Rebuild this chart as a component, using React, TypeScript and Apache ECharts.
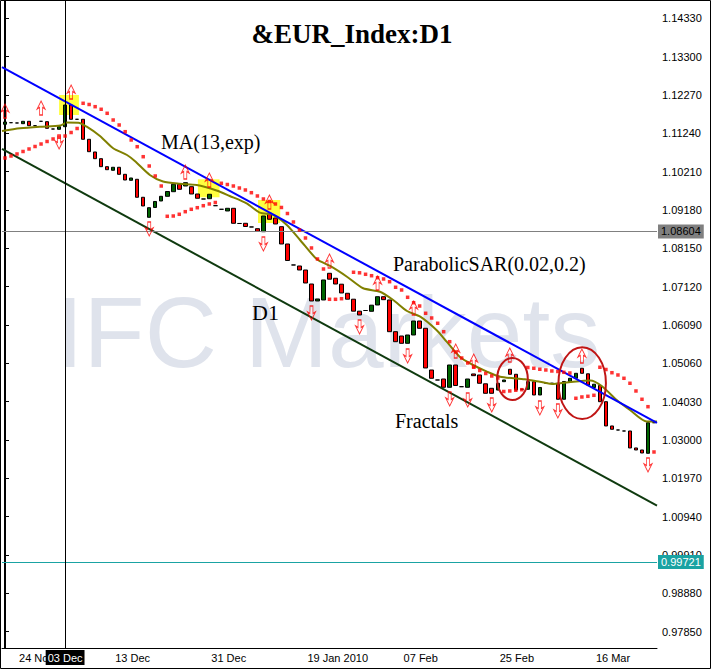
import React, { useEffect, useRef } from 'react';
import * as echarts from 'echarts';

const MONTHS = ['Jan', 'Feb', 'Mar', 'Apr', 'May', 'Jun', 'Jul', 'Aug', 'Sep', 'Oct', 'Nov', 'Dec'];
// Daily bars Sunday..Friday (broker includes Sunday bars), starting Sun 22 Nov 2009
function tradingDays(y: number, m: number, d: number, count: number): string[] {
  const out: string[] = [];
  const dt = new Date(Date.UTC(y, m - 1, d));
  while (out.length < count) {
    if (dt.getUTCDay() !== 6) out.push(String(dt.getUTCDate()).padStart(2, '0') + ' ' + MONTHS[dt.getUTCMonth()]);
    dt.setUTCDate(dt.getUTCDate() + 1);
  }
  return out;
}
const categories = tradingDays(2009, 11, 22, 109);

const opens = [
  1.11483, 1.11526, 1.11518, 1.11499, 1.11563, 1.11445, 1.11563, 1.11553, 1.11356, 1.11348,
  1.11418, 1.12001, 1.11617, 1.11617, 1.1108, 1.10739, 1.10559, 1.10344, 1.10247, 1.10328,
  1.10139, 1.09978, 1.10005, 1.09522, 1.08984, 1.09248, 1.09422, 1.09548, 1.09672, 1.09871,
  1.09825, 1.09806, 1.0961, 1.09476, 1.09484, 1.09296, 1.09199, 1.09154, 1.09226, 1.08818,
  1.08823, 1.08724, 1.08678, 1.08597, 1.09092, 1.08965, 1.08732, 1.08267, 1.07703, 1.07676,
  1.07568, 1.07192, 1.06736, 1.06763, 1.0748, 1.07346, 1.07187, 1.06943, 1.06784, 1.06462,
  1.0648, 1.06459, 1.06628, 1.06851, 1.06763, 1.05911, 1.05795, 1.05599, 1.05822, 1.06198,
  1.06002, 1.04882, 1.04613, 1.0464, 1.04417, 1.05016, 1.04433, 1.04417, 1.04775, 1.04748,
  1.04511, 1.0439, 1.04343, 1.04568, 1.04901, 1.04767, 1.04363, 1.04363, 1.04568, 1.0421,
  1.04525, 1.04525, 1.04525, 1.04095, 1.04573, 1.04659, 1.04928, 1.0478, 1.04412, 1.04466,
  1.0403, 1.03378, 1.0327, 1.03243, 1.03243, 1.02787, 1.02733, 1.02644, 1.03466,
];
const closes = [
  1.11545, 1.11526, 1.11518, 1.11563, 1.11445, 1.11445, 1.11563, 1.11375, 1.11356, 1.11418,
  1.12001, 1.11617, 1.11617, 1.1108, 1.10747, 1.10559, 1.10344, 1.10263, 1.10328, 1.10139,
  1.09986, 1.1004, 1.09522, 1.09288, 1.09242, 1.09409, 1.09548, 1.09677, 1.09871, 1.09736,
  1.09914, 1.0961, 1.09495, 1.09476, 1.09602, 1.09296, 1.09199, 1.09226, 1.08823, 1.08818,
  1.08737, 1.08724, 1.08608, 1.09019, 1.08931, 1.08804, 1.08267, 1.07824, 1.07703, 1.07568,
  1.07219, 1.06736, 1.06789, 1.073, 1.07321, 1.07192, 1.06951, 1.06784, 1.06462, 1.0636,
  1.0648, 1.06623, 1.06851, 1.06771, 1.05911, 1.05642, 1.05599, 1.05822, 1.06198, 1.06002,
  1.04936, 1.04659, 1.04613, 1.04417, 1.05016, 1.04466, 1.04433, 1.0464, 1.04729, 1.04525,
  1.04256, 1.04256, 1.04525, 1.04613, 1.04767, 1.04343, 1.04363, 1.04568, 1.0421, 1.04412,
  1.04525, 1.04525, 1.04095, 1.04573, 1.04659, 1.04793, 1.04793, 1.04479, 1.045, 1.0403,
  1.03378, 1.03289, 1.0327, 1.03243, 1.02787, 1.02733, 1.02652, 1.03466, 1.03466,
];

const sar = [
  1.10577, 1.10631, 1.10685, 1.10752, 1.10819, 1.10886, 1.10953, 1.11021, 1.11088, 1.11133,
  1.11168, 1.11262, 1.1137, 1.12047, 1.12015, 1.11956, 1.11886, 1.11778, 1.11598, 1.11464,
  1.11284, 1.11061, 1.10881, 1.10612, 1.10362, 1.10094, 1.09825, 1.09011, 1.09019, 1.09065,
  1.09135, 1.09199, 1.09242, 1.09296, 1.09342, 1.09382, 1.09898, 1.09865, 1.09825, 1.09771,
  1.09718, 1.09645, 1.09557, 1.09476, 1.09409, 1.09342, 1.09248, 1.09086, 1.08858, 1.08643,
  1.08428, 1.0816, 1.07864, 1.07595, 1.06781, 1.06781, 1.06797, 1.06851, 1.07507, 1.07493,
  1.07453, 1.07415, 1.07362, 1.07327, 1.07254, 1.07104, 1.07031, 1.06835, 1.0669, 1.06601,
  1.06405, 1.06279, 1.06137, 1.05911, 1.05642, 1.05366, 1.05204, 1.0507, 1.04963, 1.04869,
  1.04788, 1.04721, 1.04667, 1.04304, 1.04318, 1.04337, 1.04353, 1.04949, 1.04928, 1.04901,
  1.04882, 1.04855, 1.04842, 1.0482, 1.04801, 1.04122, 1.04157, 1.04175, 1.04202, 1.04955,
  1.04895, 1.04809, 1.04748, 1.04659, 1.04525, 1.04318, 1.04095, 1.03896, 1.02679,
];

// EMA(13): [bar position, value]
const maPoints: [number, number][] = [
  [-0.5, 1.11303], [2.5, 1.11375], [5.8, 1.11418], [9.2, 1.1145], [10.3, 1.11531], [12.2, 1.11526],
  [13.6, 1.11418], [15.8, 1.11168], [18.0, 1.10838], [20.3, 1.10658], [21.6, 1.10497], [24.1, 1.10121],
  [26.3, 1.09946], [29.1, 1.09884], [31.9, 1.09852], [35.2, 1.09704], [37.4, 1.09557], [40.2, 1.0936],
  [42.4, 1.09108], [44.7, 1.09046], [46.9, 1.08777], [49.1, 1.08374], [51.9, 1.07856], [54.1, 1.07676],
  [56.9, 1.07388], [59.6, 1.07077], [62.4, 1.06985], [64.6, 1.06763], [66.9, 1.06467], [69.1, 1.06314],
  [71.8, 1.05956], [73.5, 1.05642], [75.7, 1.05231], [77.9, 1.05016], [80.2, 1.04836], [82.4, 1.04702],
  [86.5, 1.04632], [89.0, 1.04568], [91.3, 1.04506], [94.6, 1.04568], [97.4, 1.046], [99.3, 1.04452],
  [101.8, 1.04076], [104.0, 1.03807], [106.8, 1.03498], [108.5, 1.03498],
];

const fractalUp: [number, number][] = [
  [0, 1.1184], [6, 1.11921], [11, 1.1235], [30, 1.10201], [34, 1.09986], [44, 1.09395], [54, 1.0781],
  [62, 1.07219], [68, 1.06548], [75, 1.05392], [78, 1.05124], [84, 1.05285], [96, 1.05258],
];
const fractalDown: [number, number][] = [
  [9, 1.11007], [24, 1.0867], [43, 1.08267], [51, 1.06413], [59, 1.06037], [67, 1.05258], [74, 1.04103],
  [77, 1.04076], [81, 1.03942], [89, 1.03861], [92, 1.03781], [107, 1.0233],
];

// trend channel: [bar position, value]
const upperTrend: [number, number][] = [[-0.5, 1.13016], [108.5, 1.03463]];
const lowerTrend: [number, number][] = [[-0.5, 1.10824], [108.5, 1.01241]];

// yellow highlight boxes [x1, x2, y1, y2]
const highlights = [
  [9.0, 12.3, 1.1227, 1.11733],
  [32.1, 35.7, 1.10005, 1.09522],
  [42.1, 45.8, 1.09449, 1.08831],
];
// red ellipses [x1, x2, y1, y2]
const ellipses = [
  [81.9, 87.0, 1.05204, 1.04076],
  [92.1, 100.0, 1.05492, 1.03566],
];

const yTicks = [
  0.9785, 0.9888, 0.9991, 1.0094, 1.0197, 1.03, 1.0403, 1.0506, 1.0609, 1.0712, 1.0815, 1.0918,
  1.1021, 1.1124, 1.1227, 1.133, 1.1433,
];
const bidLine = 1.08604;
const askLine = 0.99721;
const cursorBar = 10;

const AXIS_FONT = '"Liberation Sans", Arial, sans-serif';
const SERIF = '"Liberation Serif", "Times New Roman", serif';
const upPath = 'path://M4 0 L8 8 L5.5 6.5 L5.5 14 L2.5 14 L2.5 6.5 L0 8 Z';
const downPath = 'path://M4 14 L8 6 L5.5 7.5 L5.5 0 L2.5 0 L2.5 7.5 L0 6 Z';

const showLabel = (i: number) => i >= 2 && (i - 2) % 16 === 0;

export default function App() {
  const ref = useRef<HTMLDivElement>(null);
  useEffect(() => {
    if (!ref.current) return;
    const chart = echarts.init(ref.current, undefined, { renderer: 'svg' });
    const candles = opens.map((o, i) => {
      const c = closes[i];
      return [o, c, Math.min(o, c), Math.max(o, c)];
    });
    const option: any = {
      animation: false,
      backgroundColor: '#ffffff',
      grid: { left: 2, top: 1, width: 655, height: 647 },
      xAxis: [
        {
          type: 'category',
          data: categories,
          boundaryGap: true,
          axisLine: { lineStyle: { color: '#000', width: 1 } },
          axisTick: { alignWithLabel: true, interval: showLabel, length: 5, lineStyle: { color: '#000' } },
          axisLabel: {
            interval: showLabel,
            formatter: (v: string) => (v === '19 Jan' ? '19 Jan 2010' : v),
            align: 'left',
            color: '#000',
            fontFamily: AXIS_FONT,
            fontSize: 11,
            margin: 4,
            padding: [0, 0, 0, 2],
          },
          splitLine: { show: false },
        },
        { type: 'value', min: -0.5, max: 108.5, show: false },
      ],
      yAxis: {
        type: 'value',
        position: 'right',
        min: 0.97413,
        max: 1.14795,
        axisLine: { show: true, lineStyle: { color: '#000', width: 2 } },
        axisTick: { show: true, length: 4, customValues: yTicks, lineStyle: { color: '#000' } },
        axisLabel: {
          customValues: yTicks,
          formatter: (v: number) => v.toFixed(5),
          color: '#000',
          fontFamily: AXIS_FONT,
          fontSize: 11,
          margin: 5,
        },
        splitLine: { show: false },
      },
      graphic: {
        elements: [
          {
            type: 'text', z: 0, x: 328, y: 332,
            style: { text: 'IFC Markets', font: '100px "Liberation Sans", Arial, sans-serif', fill: '#dfe3ec', textAlign: 'center', textVerticalAlign: 'middle' },
          },
          {
            type: 'text', z: 100, x: 352, y: 34,
            style: { text: '&EUR_Index:D1', font: 'bold 27px ' + SERIF, fill: '#000', textAlign: 'center', textVerticalAlign: 'middle' },
          },
          { type: 'text', z: 100, x: 161, y: 142, style: { text: 'MA(13,exp)', font: '20px ' + SERIF, fill: '#000', textVerticalAlign: 'middle' } },
          { type: 'text', z: 100, x: 393, y: 264, style: { text: 'ParabolicSAR(0.02,0.2)', font: '20px ' + SERIF, fill: '#000', textVerticalAlign: 'middle' } },
          { type: 'text', z: 100, x: 252, y: 312, style: { text: 'D1', font: '22px ' + SERIF, fill: '#000', textVerticalAlign: 'middle' } },
          { type: 'text', z: 100, x: 395, y: 421, style: { text: 'Fractals', font: '20px ' + SERIF, fill: '#000', textVerticalAlign: 'middle' } },
          {
            type: 'rect', z: 100, shape: { x: 0.5, y: 0.5, width: 710, height: 668 },
            style: { fill: 'none', stroke: '#000', lineWidth: 1 },
          },
        ],
      },
      series: [
        {
          type: 'custom', name: 'highlights', xAxisIndex: 1, yAxisIndex: 0, silent: true, z: 1,
          data: highlights,
          renderItem: (_p: any, api: any) => {
            const a = api.coord([api.value(0), api.value(2)]);
            const b = api.coord([api.value(1), api.value(3)]);
            return {
              type: 'rect',
              shape: { x: Math.min(a[0], b[0]), y: Math.min(a[1], b[1]), width: Math.abs(b[0] - a[0]), height: Math.abs(b[1] - a[1]) },
              style: { fill: '#ffff2a', opacity: 0.9 },
            };
          },
        },
        {
          type: 'candlestick', name: 'price', xAxisIndex: 0, yAxisIndex: 0, barWidth: 4, z: 3,
          data: candles,
          itemStyle: {
            color: '#006400', color0: '#ff0000', borderColor: '#000', borderColor0: '#000', borderColorDoji: '#000', borderWidth: 1,
          },
        },
        {
          type: 'line', name: 'MA(13,exp)', xAxisIndex: 1, yAxisIndex: 0, data: maPoints, showSymbol: false, smooth: 0.25, z: 4,
          lineStyle: { color: '#808000', width: 2 },
        },
        {
          type: 'line', name: 'upper', xAxisIndex: 1, yAxisIndex: 0, data: upperTrend, showSymbol: false, z: 4,
          lineStyle: { color: '#0000ff', width: 2 },
        },
        {
          type: 'line', name: 'lower', xAxisIndex: 1, yAxisIndex: 0, data: lowerTrend, showSymbol: false, z: 4,
          lineStyle: { color: '#0f3a0f', width: 2 },
        },
        {
          type: 'scatter', name: 'SAR', xAxisIndex: 0, yAxisIndex: 0, data: sar, symbol: 'rect', symbolSize: 3.5, z: 5,
          itemStyle: { color: '#ff0000' },
        },
        {
          type: 'scatter', name: 'fractal up', xAxisIndex: 0, yAxisIndex: 0, data: fractalUp, symbol: upPath, symbolSize: [8, 14], z: 6,
          itemStyle: { color: 'rgba(255,255,255,0)', borderColor: '#ff0000', borderWidth: 1 },
        },
        {
          type: 'scatter', name: 'fractal down', xAxisIndex: 0, yAxisIndex: 0, data: fractalDown, symbol: downPath, symbolSize: [8, 14], z: 6,
          itemStyle: { color: 'rgba(255,255,255,0)', borderColor: '#ff0000', borderWidth: 1 },
        },
        {
          type: 'custom', name: 'circles', xAxisIndex: 1, yAxisIndex: 0, silent: true, z: 7,
          data: ellipses,
          renderItem: (_p: any, api: any) => {
            const a = api.coord([api.value(0), api.value(2)]);
            const b = api.coord([api.value(1), api.value(3)]);
            return {
              type: 'ellipse',
              shape: { cx: (a[0] + b[0]) / 2, cy: (a[1] + b[1]) / 2, rx: Math.abs(b[0] - a[0]) / 2, ry: Math.abs(b[1] - a[1]) / 2 },
              style: { fill: 'none', stroke: '#c01515', lineWidth: 2 },
            };
          },
        },
        {
          type: 'line', name: 'levels', xAxisIndex: 1, yAxisIndex: 0, data: [[0, bidLine]], showSymbol: false, z: 2,
          lineStyle: { width: 0 },
          markLine: {
            silent: true, symbol: 'none', animation: false, precision: 5,
            data: [
              {
                yAxis: bidLine,
                lineStyle: { color: '#808080', width: 1, type: 'solid' },
                label: { show: true, position: 'end', formatter: bidLine.toFixed(5), backgroundColor: '#808080', color: '#000', padding: [2, 3, 1, 3], fontSize: 11, fontFamily: AXIS_FONT, distance: 1 },
              },
              {
                yAxis: askLine,
                lineStyle: { color: '#1aa3a3', width: 1, type: 'solid' },
                label: { show: true, position: 'end', formatter: askLine.toFixed(5), backgroundColor: '#1aa3a3', color: '#fff', padding: [2, 3, 1, 3], fontSize: 11, fontFamily: AXIS_FONT, distance: 1 },
              },
              {
                xAxis: cursorBar,
                lineStyle: { color: '#000', width: 1, type: 'solid' },
                label: { show: true, position: 'start', formatter: categories[cursorBar], backgroundColor: '#000', color: '#fff', padding: [2, 2, 2, 2], fontSize: 11, fontFamily: AXIS_FONT, distance: 2 },
              },
            ],
          },
        },
      ],
    };
    chart.setOption(option);
    return () => chart.dispose();
  }, []);
  return <div ref={ref} style={{ position: 'absolute', left: 0, top: 0, width: 711, height: 669 }} />;
}
